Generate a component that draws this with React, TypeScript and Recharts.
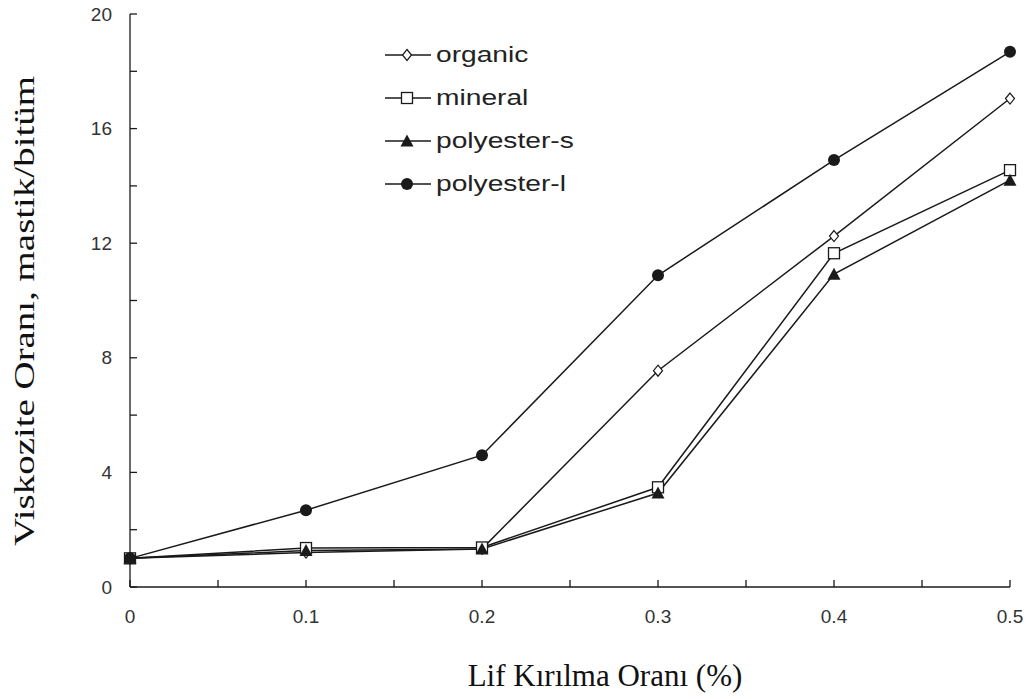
import React from 'react';
import { LineChart, Line, XAxis, YAxis } from 'recharts';

const fiberRatio = [0, 0.1, 0.2, 0.3, 0.4, 0.5];
const organic = [1.0, 1.2, 1.33, 7.55, 12.25, 17.05];
const mineral = [1.0, 1.36, 1.38, 3.48, 11.65, 14.55];
const polyesterS = [1.0, 1.27, 1.33, 3.28, 10.92, 14.2];
const polyesterL = [1.0, 2.68, 4.6, 10.88, 14.9, 18.68];

const xTicks = [0, 0.05, 0.1, 0.15, 0.2, 0.25, 0.3, 0.35, 0.4, 0.45, 0.5];
const yTicks = [0, 2, 4, 6, 8, 10, 12, 14, 16, 18, 20];

const seriesNames = ['organic', 'mineral', 'polyester-s', 'polyester-l'];
const seriesKeys = ['organic', 'mineral', 'polyesterS', 'polyesterL'];

const data = fiberRatio.map((x, i) => ({
  x,
  organic: organic[i],
  mineral: mineral[i],
  polyesterS: polyesterS[i],
  polyesterL: polyesterL[i],
}));

const INK = '#1a1a1a';
const TICK_TEXT = '#333';
const SANS = 'Liberation Sans, Arial, sans-serif';
const SERIF = 'Liberation Serif, Times New Roman, serif';

const Diamond = ({ cx, cy }: any) =>
  cx == null ? null : (
    <polygon
      points={`${cx},${cy - 5.5} ${cx + 4.5},${cy} ${cx},${cy + 5.5} ${cx - 4.5},${cy}`}
      fill="#fff"
      stroke={INK}
      strokeWidth={1.2}
    />
  );
const Square = ({ cx, cy }: any) =>
  cx == null ? null : (
    <rect x={cx - 5.5} y={cy - 5.5} width={11} height={11} fill="#fff" stroke={INK} strokeWidth={1.3} />
  );
const Triangle = ({ cx, cy }: any) =>
  cx == null ? null : (
    <polygon points={`${cx},${cy - 6.5} ${cx + 6.5},${cy + 5.5} ${cx - 6.5},${cy + 5.5}`} fill={INK} />
  );
const Circle = ({ cx, cy }: any) =>
  cx == null ? null : <circle cx={cx} cy={cy} r={6} fill={INK} />;

const markers = [Diamond, Square, Triangle, Circle];

const XTick = ({ x, y, payload }: any) => {
  const v = payload.value;
  const major = Math.abs(Math.round(v * 10) - v * 10) < 1e-6;
  return (
    <g>
      <line x1={x} y1={y} x2={x} y2={y - 7} stroke={INK} strokeWidth={1.3} />
      {major && (
        <text
          x={x}
          y={y + 29}
          textAnchor="middle"
          dominantBaseline="central"
          fontFamily={SANS}
          fontSize={19}
          fill={TICK_TEXT}
        >
          {v === 0 ? '0' : v.toFixed(1)}
        </text>
      )}
    </g>
  );
};

const YTick = ({ x, y, payload }: any) => {
  const v = payload.value;
  return (
    <g>
      <line x1={x} y1={y} x2={x + 7} y2={y} stroke={INK} strokeWidth={1.3} />
      {v % 4 === 0 && (
        <text
          x={x - 18}
          y={y}
          textAnchor="end"
          dominantBaseline="central"
          fontFamily={SANS}
          fontSize={19}
          fill={TICK_TEXT}
        >
          {v}
        </text>
      )}
    </g>
  );
};

const LegendBox = () => (
  <div
    style={{
      position: 'absolute',
      left: 384,
      top: 33,
      fontFamily: SANS,
      fontSize: 22,
      color: '#222',
    }}
  >
    {seriesNames.map((name, i) => {
      const M = markers[i];
      return (
        <div key={name} style={{ display: 'flex', alignItems: 'center', height: 43 }}>
          <svg width={50} height={20} style={{ display: 'block' }}>
            <line x1={1} y1={10} x2={47} y2={10} stroke={INK} strokeWidth={1.5} />
            <M cx={23} cy={10} />
          </svg>
          <span
            style={{
              marginLeft: 2,
              whiteSpace: 'nowrap',
              display: 'inline-block',
              transform: 'scaleX(1.28)',
              transformOrigin: 'left center',
            }}
          >
            {name}
          </span>
        </div>
      );
    })}
  </div>
);

export default function App() {
  return (
    <div style={{ position: 'absolute', left: 0, top: 0, width: 1030, height: 699, background: '#fff' }}>
      <LineChart width={1030} height={699} data={data} margin={{ top: 14, right: 20, bottom: 0, left: 0 }}>
        <XAxis
          dataKey="x"
          type="number"
          domain={[0, 0.5]}
          ticks={xTicks}
          interval={0}
          height={112}
          tickSize={0}
          tickMargin={0}
          tickLine={false}
          tick={<XTick />}
          axisLine={{ stroke: INK, strokeWidth: 1.3 }}
          label={{
            content: () => (
              <text
                x={605}
                y={686}
                textAnchor="middle"
                fontFamily={SERIF}
                fontSize={31}
                fill="#111"
              >
                Lif Kırılma Oranı (%)
              </text>
            ),
          }}
        />
        <YAxis
          type="number"
          domain={[0, 20]}
          ticks={yTicks}
          interval={0}
          width={130}
          tickSize={0}
          tickMargin={0}
          tickLine={false}
          tick={<YTick />}
          axisLine={{ stroke: INK, strokeWidth: 1.3 }}
          label={{
            content: () => (
              <text
                x={23}
                y={311}
                transform="rotate(-90, 23, 311)"
                textAnchor="middle"
                dominantBaseline="central"
                fontFamily={SERIF}
                fontSize={30}
                textLength={470}
                lengthAdjust="spacingAndGlyphs"
                fill="#111"
              >
                Viskozite Oranı, mastik/bitüm
              </text>
            ),
          }}
        />
        {seriesKeys.map((k, i) => {
          const M = markers[i];
          return (
            <Line
              key={k}
              dataKey={k}
              name={seriesNames[i]}
              stroke={INK}
              strokeWidth={1.5}
              dot={<M />}
              activeDot={false}
              isAnimationActive={false}
            />
          );
        })}
      </LineChart>
      <LegendBox />
    </div>
  );
}
